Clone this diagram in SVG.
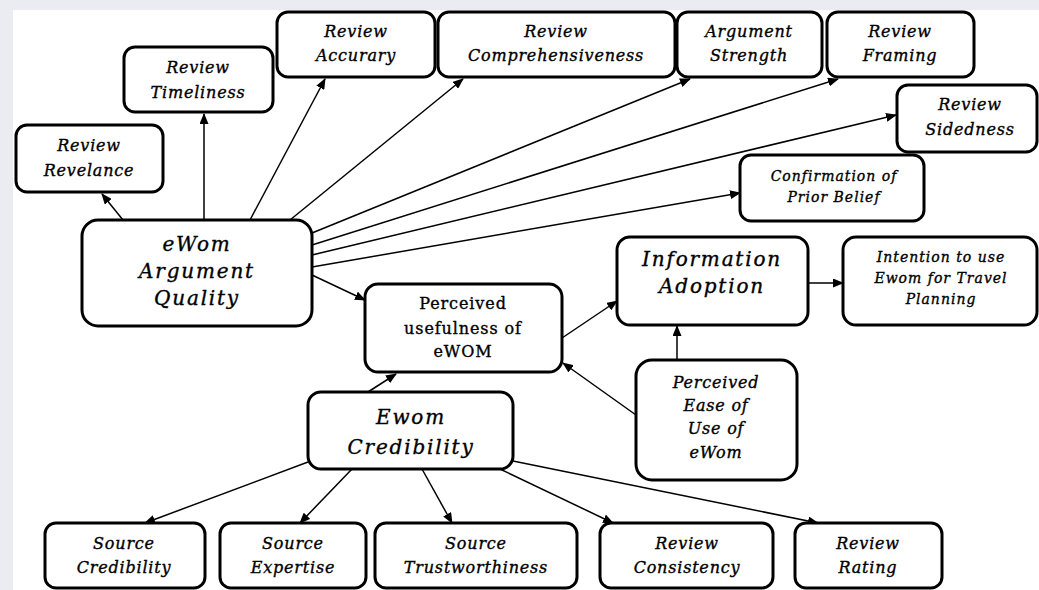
<svg xmlns="http://www.w3.org/2000/svg" width="1039" height="590" viewBox="0 0 1039 590">
  <defs>
    <marker id="arrow" markerUnits="userSpaceOnUse" markerWidth="11" markerHeight="9" refX="10" refY="4.5" orient="auto">
      <path d="M0,0 L11,4.5 L0,9 z" fill="#000"/>
    </marker>
    <style>
      .box { fill: #fff; stroke: #000; stroke-width: 3; }
      .edge { fill: none; stroke: #000; stroke-width: 1.5; marker-end: url(#arrow); }
      text { font-family: "DejaVu Serif", "Liberation Serif", serif; text-anchor: middle; fill: #000; stroke: #000; stroke-width: 0.35px; }
      .t { font-style: italic; font-size: 16px; letter-spacing: 0.8px; }
      .s { font-style: italic; font-size: 14px; letter-spacing: 1px; }
      .b { font-style: italic; font-size: 20px; letter-spacing: 1.8px; }
      .u { font-size: 16px; letter-spacing: 0.9px; }
    </style>
  </defs>

  <!-- page backdrop -->
  <rect x="0" y="0" width="1039" height="590" fill="#eaecf1"/>
  <rect x="13" y="10" width="1026" height="580" fill="#fff"/>

  <!-- connectors -->
  <g id="connectors">
    <line class="edge" x1="123" y1="220" x2="102" y2="194"/>
    <line class="edge" x1="204" y1="220" x2="204" y2="114"/>
    <line class="edge" x1="250" y1="220" x2="325" y2="79"/>
    <line class="edge" x1="290" y1="220" x2="463" y2="79"/>
    <line class="edge" x1="312" y1="233" x2="690" y2="79"/>
    <line class="edge" x1="312" y1="245" x2="838" y2="79"/>
    <line class="edge" x1="312" y1="255" x2="896" y2="115"/>
    <line class="edge" x1="312" y1="267" x2="740" y2="193"/>
    <line class="edge" x1="312" y1="275" x2="365" y2="300"/>
    <line class="edge" x1="562" y1="338" x2="617" y2="301"/>
    <line class="edge" x1="808" y1="283" x2="843" y2="283"/>
    <line class="edge" x1="677" y1="360" x2="677" y2="326"/>
    <line class="edge" x1="636" y1="415" x2="563" y2="363"/>
    <line class="edge" x1="368" y1="392" x2="396" y2="374"/>
    <line class="edge" x1="308" y1="462" x2="145" y2="523"/>
    <line class="edge" x1="352" y1="469" x2="300" y2="523"/>
    <line class="edge" x1="422" y1="469" x2="452" y2="523"/>
    <line class="edge" x1="500" y1="469" x2="613" y2="523"/>
    <line class="edge" x1="513" y1="461" x2="818" y2="523"/>
  </g>

  <!-- argument quality dimensions -->
  <g id="review-relevance">
    <rect class="box" x="16" y="125" width="147" height="67" rx="11"/>
    <text class="t" x="89" y="151">Review</text>
    <text class="t" x="89" y="176">Revelance</text>
  </g>
  <g id="review-timeliness">
    <rect class="box" x="124" y="47" width="149" height="65" rx="11"/>
    <text class="t" x="198" y="73">Review</text>
    <text class="t" x="198" y="98">Timeliness</text>
  </g>
  <g id="review-accuracy">
    <rect class="box" x="277" y="12" width="158" height="65" rx="11"/>
    <text class="t" x="356" y="37">Review</text>
    <text class="t" x="356" y="61">Accurary</text>
  </g>
  <g id="review-comprehensiveness">
    <rect class="box" x="438" y="12" width="237" height="65" rx="11"/>
    <text class="t" x="556" y="37">Review</text>
    <text class="t" x="556" y="61">Comprehensiveness</text>
  </g>
  <g id="argument-strength">
    <rect class="box" x="677" y="12" width="145" height="65" rx="11"/>
    <text class="t" x="749" y="37">Argument</text>
    <text class="t" x="749" y="61">Strength</text>
  </g>
  <g id="review-framing">
    <rect class="box" x="827" y="12" width="147" height="65" rx="11"/>
    <text class="t" x="900" y="37">Review</text>
    <text class="t" x="900" y="61">Framing</text>
  </g>
  <g id="review-sidedness">
    <rect class="box" x="897" y="85" width="140" height="67" rx="11"/>
    <text class="t" x="970" y="110">Review</text>
    <text class="t" x="970" y="135">Sidedness</text>
  </g>
  <g id="confirmation-prior-belief">
    <rect class="box" x="740" y="155" width="184" height="66" rx="11"/>
    <text class="s" x="834" y="181">Confirmation of</text>
    <text class="s" x="834" y="202">Prior Belief</text>
  </g>

  <!-- core constructs -->
  <g id="ewom-argument-quality">
    <rect class="box" x="82" y="220" width="230" height="106" rx="16"/>
    <text class="b" x="197" y="251">eWom</text>
    <text class="b" x="197" y="278">Argument</text>
    <text class="b" x="197" y="305">Quality</text>
  </g>
  <g id="perceived-usefulness">
    <rect class="box" x="365" y="284" width="197" height="88" rx="13"/>
    <text class="u" x="463" y="309">Perceived</text>
    <text class="u" x="463" y="334">usefulness of</text>
    <text class="u" x="463" y="357">eWOM</text>
  </g>
  <g id="information-adoption">
    <rect class="box" x="617" y="237" width="191" height="88" rx="13"/>
    <text class="b" x="712" y="266">Information</text>
    <text class="b" x="712" y="293">Adoption</text>
  </g>
  <g id="intention-to-use">
    <rect class="box" x="843" y="237" width="194" height="88" rx="13"/>
    <text class="s" x="941" y="262">Intention to use</text>
    <text class="s" x="941" y="283">Ewom for Travel</text>
    <text class="s" x="941" y="304">Planning</text>
  </g>
  <g id="perceived-ease-of-use">
    <rect class="box" x="636" y="360" width="161" height="120" rx="16"/>
    <text class="t" x="716" y="388">Perceived</text>
    <text class="t" x="716" y="411">Ease of</text>
    <text class="t" x="716" y="434">Use of</text>
    <text class="t" x="716" y="458">eWom</text>
  </g>
  <g id="ewom-credibility">
    <rect class="box" x="308" y="392" width="205" height="77" rx="13"/>
    <text class="b" x="411" y="424">Ewom</text>
    <text class="b" x="411" y="454">Credibility</text>
  </g>

  <!-- credibility dimensions -->
  <g id="source-credibility">
    <rect class="box" x="45" y="523" width="160" height="65" rx="11"/>
    <text class="t" x="124" y="549">Source</text>
    <text class="t" x="124" y="573">Credibility</text>
  </g>
  <g id="source-expertise">
    <rect class="box" x="220" y="523" width="146" height="65" rx="11"/>
    <text class="t" x="293" y="549">Source</text>
    <text class="t" x="293" y="573">Expertise</text>
  </g>
  <g id="source-trustworthiness">
    <rect class="box" x="375" y="523" width="202" height="65" rx="11"/>
    <text class="t" x="476" y="549">Source</text>
    <text class="t" x="476" y="573">Trustworthiness</text>
  </g>
  <g id="review-consistency">
    <rect class="box" x="600" y="523" width="173" height="65" rx="11"/>
    <text class="t" x="687" y="549">Review</text>
    <text class="t" x="687" y="573">Consistency</text>
  </g>
  <g id="review-rating">
    <rect class="box" x="795" y="523" width="147" height="65" rx="11"/>
    <text class="t" x="868" y="549">Review</text>
    <text class="t" x="868" y="573">Rating</text>
  </g>
</svg>
